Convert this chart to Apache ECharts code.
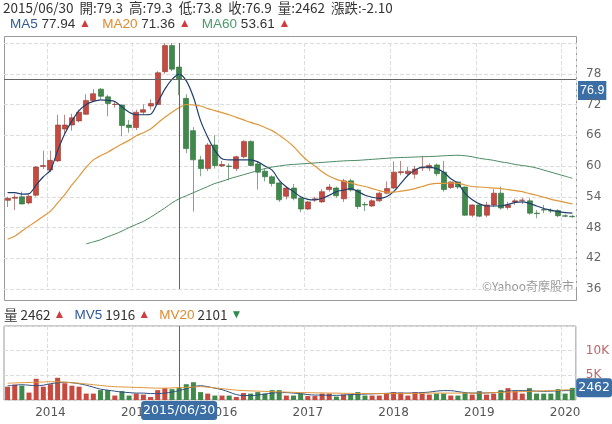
<!DOCTYPE html>
<html>
<head>
<meta charset="utf-8">
<script src="https://cdn.jsdelivr.net/npm/echarts@6/dist/echarts.min.js"></script>
<style>
  html, body { margin: 0; padding: 0; background: #fff; }
  #chart { width: 612px; height: 424px; }
</style>
</head>
<body>
<div id="chart"></div>
<script>
// months 2013/06 .. 2020/01
const months = [];
for (let y = 2013, m = 6; months.length < 80; ) {
  months.push(y + "/" + (m < 10 ? "0" + m : m));
  m++;
  if (m > 12) { m = 1; y++; }
}

// [open, close, low, high]
const candles = [
  [53.3, 53.7, 52, 54], [53.7, 53.9, 51.4, 54.5], [54, 52.6, 52.5, 55], [52.8, 54.1, 52.5, 54.5],
  [54.3, 59.8, 54, 60], [59.9, 60.1, 59.4, 63], [59.2, 61.1, 58.8, 63], [61, 68, 60.8, 70],
  [67.2, 68, 66, 70], [68, 69.4, 66.9, 70.2], [68.8, 70.5, 68.5, 71], [70.1, 72.8, 70, 74],
  [72.8, 74.1, 72.5, 75], [75, 73.6, 73, 75.2], [73.5, 72.2, 69.7, 73.9], [72, 72.05, 71.4, 72.7],
  [71.9, 67.9, 65.8, 72], [68, 67.5, 66.5, 69], [67.5, 70.5, 67, 71], [70.5, 71, 70, 72],
  [71.7, 72.2, 71, 73], [72, 78.2, 72, 78.5], [78.4, 83.5, 78, 84], [83.5, 78.9, 78.5, 84],
  [79.3, 76.9, 73.8, 79.3], [73.2, 63.4, 62.5, 74], [66.9, 61.2, 51.1, 67.6], [61.2, 59.5, 58, 62],
  [59.5, 64.1, 59, 64.5], [64.1, 60.1, 59.5, 66], [60, 60.3, 59.8, 61], [60, 59.9, 57.2, 60.5],
  [59.5, 61.8, 59, 62], [61.8, 64.8, 61.5, 65], [64.8, 60.1, 60, 65], [60.4, 58.8, 55.4, 61],
  [59, 57.9, 57, 59.5], [57.9, 56.6, 56, 58.2], [56.7, 53.4, 53, 57], [54.1, 55.7, 53.5, 56],
  [55.7, 53.7, 53.3, 56.5], [53.7, 51.6, 51, 54], [51.6, 53, 51.4, 53.2], [53.4, 53.6, 53, 54],
  [53, 55, 52.8, 55.5], [55.4, 55.9, 55, 56.5], [55.7, 54.2, 53.8, 56], [53.6, 57.1, 53, 57.5],
  [57.1, 55.3, 55, 57.5], [55.3, 52.1, 51.6, 55.5], [52.5, 52.4, 51.2, 53], [52.2, 53.2, 52, 53.5],
  [53.2, 54.7, 53, 55], [54.7, 55.6, 54.5, 57], [55.7, 58.8, 55.5, 60.9], [58.7, 58.9, 58.2, 61],
  [58.5, 59, 58, 59.8], [58.4, 59.4, 57.5, 60], [59.6, 59.7, 59, 62], [59.6, 60.1, 59, 60.5],
  [60.2, 58.5, 58, 60.5], [58.8, 55.4, 55, 61], [55.8, 56.9, 55.5, 57], [56.9, 55.9, 55.5, 57],
  [55.9, 50.4, 50.3, 56], [50.4, 52.4, 50, 52.5], [52.4, 50.2, 50, 52.6], [50.4, 52.4, 50, 53],
  [52.4, 54.7, 52, 55.5], [54.7, 51.8, 51.5, 56], [51.9, 52.4, 51.5, 53], [53, 53.2, 52.4, 53.6],
  [53.3, 53.35, 52.6, 53.8], [53.2, 50.8, 50.5, 53.7], [50.8, 50.7, 49.8, 51.4], [51.5, 51.4, 50.8, 52.4],
  [51.3, 51.2, 50.8, 51.7], [51.3, 50.3, 50, 51.6], [50.3, 50.2, 50, 50.6], [50.2, 50.1, 49.9, 50.4]
];

const ma5 = [54.8, 54.8, 54.5, 54.6, 56.3, 57.9, 59.2, 63, 66.3, 68.8, 70.8, 72, 72.6, 72.9, 72.8, 72.6,
  71.5, 70.5, 70, 70, 70.1, 72.4, 75, 76.9, 77.94, 76.6, 73.4, 68.8, 65.6, 63, 61.4, 61.2, 61.2, 61.2,
  61.2, 60.8, 60, 59.2, 57.2, 55.9, 55, 54, 53.5, 53.4, 53.7, 54.3, 55, 55.3, 55.6, 55, 54.3, 53.9,
  53.7, 54, 55, 56.6, 58.2, 59.2, 59.8, 59.8, 59.5, 58.8, 57.5, 56.6, 54.6, 53.4, 52.6, 52.2, 52.2,
  52.2, 52.5, 52.9, 53, 52.7, 52.2, 51.7, 51.4, 51.1, 50.9, 50.8];
const ma20 = [45.7, 46.3, 47.3, 48.3, 49.2, 50.2, 51.2, 52.8, 54.4, 56.3, 58, 59.8, 61.2, 62, 62.7, 63.5,
  64.3, 65, 65.9, 66.5, 67.2, 68.4, 69.5, 70.5, 71.36, 72, 71.9, 71.7, 71.2, 70.8, 70.4, 70, 69.5, 69,
  68.5, 68.1, 67.5, 66.9, 66, 65, 63.8, 62.3, 61, 60, 58.9, 58, 57.4, 57, 56.7, 56.3, 56, 55.6, 55.2,
  54.9, 54.9, 55.1, 55.3, 55.6, 56, 56.4, 56.6, 56.6, 56.7, 56.6, 56.3, 56, 55.9, 55.8, 55.7, 55.6,
  55.4, 55.2, 55, 54.6, 54.3, 53.9, 53.5, 53.2, 52.9, 52.6];
const ma60 = ["-", "-", "-", "-", "-", "-", "-", "-", "-", "-", "-", 44.8, 45.2, 45.6, 46.2, 46.7, 47.3, 48,
  48.6, 49.2, 50, 50.9, 51.8, 52.8, 53.61, 54.2, 54.8, 55.4, 56, 56.6, 57, 57.5, 57.9, 58.3, 58.7, 59.1,
  59.5, 59.8, 60, 60.2, 60.3, 60.4, 60.5, 60.6, 60.7, 60.8, 60.9, 61, 61.05, 61.1, 61.2, 61.3, 61.4,
  61.5, 61.6, 61.65, 61.7, 61.75, 61.8, 61.85, 61.9, 62, 62.05, 62.1, 62, 61.8, 61.5, 61.3, 61.1, 60.8,
  60.6, 60.3, 60.1, 59.9, 59.6, 59.2, 58.8, 58.4, 58, 57.6];

const volumes = [2700, 3100, 2900, 1500, 4300, 2700, 3200, 4500, 3400, 2900, 2700, 1300, 1300, 2000, 2000,
  900, 1800, 900, 1300, 1100, 600, 2000, 2400, 2200, 2462, 3200, 3600, 1600, 1300, 900, 900, 900, 600,
  1400, 1300, 1600, 1300, 2000, 2000, 900, 900, 1300, 800, 800, 1300, 1300, 700, 1100, 1100, 1600, 900,
  900, 900, 1400, 1600, 1500, 900, 1600, 1300, 1100, 1300, 1300, 900, 900, 1400, 1100, 1800, 1100, 1300,
  2000, 2400, 1800, 1300, 2400, 1300, 1300, 1300, 2200, 1300, 2462];
const mv5 = [2900, 3000, 3100, 3000, 2900, 3000, 3300, 3500, 3600, 3500, 3300, 3000, 2600, 2200, 2000,
  1800, 1600, 1500, 1400, 1400, 1300, 1300, 1400, 1600, 1900, 2300, 2700, 2900, 2700, 2400, 2100, 1600,
  1100, 900, 900, 1000, 1200, 1400, 1500, 1500, 1400, 1300, 1100, 1000, 1000, 950, 950, 1000, 1100, 1150,
  1200, 1250, 1300, 1350, 1400, 1400, 1400, 1450, 1500, 1600, 1800, 1900, 1900, 1700, 1500, 1400, 1400,
  1450, 1500, 1600, 1800, 1900, 1900, 1850, 1800, 1750, 1800, 1850, 1900, 1916];
const mv20 = [3400, 3450, 3500, 3550, 3600, 3650, 3700, 3700, 3600, 3500, 3400, 3250, 3100, 2950, 2800,
  2700, 2650, 2600, 2550, 2500, 2450, 2400, 2400, 2450, 2500, 2550, 2650, 2700, 2600, 2450, 2300, 2150,
  2000, 1900, 1850, 1800, 1750, 1700, 1650, 1600, 1550, 1500, 1500, 1450, 1450, 1400, 1400, 1350, 1350,
  1300, 1300, 1300, 1300, 1300, 1300, 1300, 1300, 1350, 1350, 1400, 1400, 1400, 1400, 1400, 1400, 1400,
  1400, 1450, 1500, 1550, 1600, 1650, 1700, 1750, 1800, 1850, 1900, 1950, 2050, 2101];

const UP = "#c8493f", DOWN = "#3f8a4a";
const cursor = "2015/06";
const yearTick = (i, v) => v.endsWith("/12");
const volColors = candles.map((c) => (c[1] >= c[0] ? UP : DOWN));

const chart = echarts.init(document.getElementById("chart"));
const xBase = {
  type: "category",
  data: months,
  boundaryGap: true,
  axisLine: { show: false },
  axisTick: { show: false },
  splitLine: { show: true, interval: yearTick, lineStyle: { color: "#ddd", type: "dashed" } },
};
const tag = { backgroundColor: "#3a6ea5", color: "#fff", padding: [3, 2], fontSize: 12.5 };
chart.setOption({
  animation: false,
  textStyle: { fontFamily: "DejaVu Sans" },
  graphic: [
    { type: "rect", shape: { x: 4.5, y: 36.5, width: 572, height: 264 }, style: { fill: "none", stroke: "#999", lineWidth: 1 } },
    { type: "text", left: 3, top: 1, style: { text: "2015/06/30  開:79.3  高:79.3  低:73.8  收:76.9  量:2462  漲跌:-2.10", fontSize: 13.5, fill: "#333", fontFamily: "Noto Sans CJK TC" } },
    { type: "text", left: 10, top: 17, style: {
        text: "{b|MA5} 77.94 {r|▲}   {o|MA20} 71.36 {r|▲}   {g|MA60} 53.61 {r|▲}",
        fontSize: 13.5, fill: "#333",
        rich: { b: { fill: "#2f5b9a", fontSize: 13.5 }, o: { fill: "#e08a2e", fontSize: 13.5 }, g: { fill: "#4a9a6a", fontSize: 13.5 }, r: { fill: "#d03c3c", fontSize: 12 } } } },
    { type: "text", left: 4, top: 308, style: {
        text: "量 2462 {r|▲}   {b|MV5} 1916 {r|▲}   {o|MV20} 2101 {g|▼}",
        fontSize: 13.5, fill: "#333", fontFamily: "Noto Sans CJK TC",
        rich: { b: { fill: "#2f5b9a", fontSize: 13.5 }, o: { fill: "#e08a2e", fontSize: 13.5 }, g: { fill: "#2e8a4a", fontSize: 12 }, r: { fill: "#d03c3c", fontSize: 12 } } } },
    { type: "text", right: 38, top: 280, style: { text: "©Yahoo奇摩股市", fontSize: 12, fill: "#999", fontFamily: "Noto Sans CJK TC" } },
    { type: "text", left: 578, top: 81, style: Object.assign({ text: "76.9" }, tag, { fill: "#fff" }) },
  ],
  grid: [
    { left: 4, right: 36, top: 43, height: 246 },
    { left: 4, right: 36, top: 326, height: 74, show: true, borderColor: "#999", borderWidth: 1 },
  ],
  xAxis: [
    Object.assign({}, xBase, {
      gridIndex: 0,
      axisLabel: { show: false },
      axisPointer: { show: true, value: cursor, status: "show", snap: true, lineStyle: { color: "#666", type: "solid", width: 1 }, label: { show: false } },
    }),
    Object.assign({}, xBase, {
      gridIndex: 1,
      axisLabel: { show: true, interval: yearTick, formatter: (v) => String(parseInt(v) + 1), color: "#555", fontSize: 12, margin: 7 },
      axisPointer: { show: true, value: cursor, status: "show", snap: true, lineStyle: { color: "#666", type: "solid", width: 1 },
        label: Object.assign({ show: true, formatter: () => "2015/06/30", margin: 1 }, tag) },
    }),
  ],
  yAxis: [
    {
      gridIndex: 0, position: "right", min: 36, max: 84, interval: 6,
      axisLine: { show: false }, axisTick: { show: false },
      axisLabel: { color: "#666", fontSize: 12, margin: 10, showMaxLabel: false },
      splitLine: { lineStyle: { color: "#ddd", type: "dashed" } },
      axisPointer: { show: true, value: 76.9, status: "show", lineStyle: { color: "#666", type: "solid", width: 1 }, label: { show: false } },
    },
    {
      gridIndex: 1, position: "right", min: 0, max: 15000, interval: 5000,
      axisLine: { show: false }, axisTick: { show: false },
      axisLabel: { color: "#c0646a", fontSize: 12, margin: 10, showMinLabel: false, showMaxLabel: false, formatter: (v) => v / 1000 + "K" },
      splitLine: { lineStyle: { color: "#ddd", type: "dashed" } },
      axisPointer: { show: true, value: 2462, status: "show", lineStyle: { opacity: 0 },
        label: Object.assign({ show: true, formatter: () => "2462", margin: 1 }, tag) },
    },
  ],
  axisPointer: { link: [{ xAxisIndex: "all" }], triggerOn: "none" },
  series: [
    { type: "candlestick", data: candles, barWidth: 5.5,
      itemStyle: { color: UP, color0: DOWN, borderColor: "#8a3a33", borderColor0: "#2f6a3a", borderWidth: 0.6 } },
    { type: "line", data: ma5, showSymbol: false, lineStyle: { color: "#1f3f6e", width: 1.2 }, smooth: 0.3 },
    { type: "line", data: ma20, showSymbol: false, lineStyle: { color: "#e0963a", width: 1.2 }, smooth: 0.3 },
    { type: "line", data: ma60, showSymbol: false, lineStyle: { color: "#4a8a60", width: 1 }, smooth: 0.3 },
    { type: "bar", xAxisIndex: 1, yAxisIndex: 1, barWidth: 5,
      data: volumes.map((v, i) => ({ value: v, itemStyle: { color: volColors[i] } })) },
    { type: "line", xAxisIndex: 1, yAxisIndex: 1, data: mv5, showSymbol: false, lineStyle: { color: "#2f4f80", width: 1 }, smooth: 0.3 },
    { type: "line", xAxisIndex: 1, yAxisIndex: 1, data: mv20, showSymbol: false, lineStyle: { color: "#e0963a", width: 1 }, smooth: 0.3 },
  ],
});
</script>
</body>
</html>
